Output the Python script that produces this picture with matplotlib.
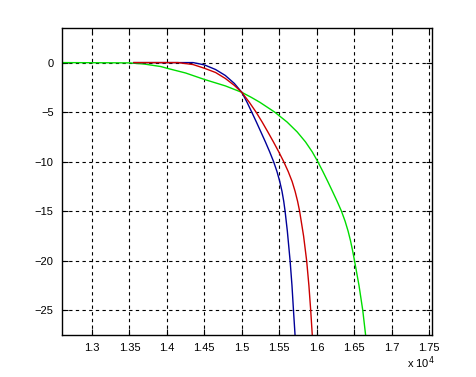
import matplotlib
matplotlib.use("Agg")
import matplotlib.pyplot as plt

# values
green_x = [12600, 13500, 13700, 13920, 14000, 14250, 14500, 14780, 15000, 15125, 15240,
           15440, 15605, 15740, 15850, 15940, 16015, 16083, 16148, 16211, 16273,
           16331, 16379, 16419, 16452, 16480, 16505, 16565, 16615, 16653]
green_y = [0, -0.03, -0.15, -0.4, -0.57, -1.05, -1.7, -2.35, -3.0, -3.5, -4.0,
           -5.0, -6.0, -7.0, -8.0, -9.0, -10.0, -11.0, -12.0, -13.0, -14.0,
           -15.0, -16.0, -17.0, -18.0, -19.0, -20.0, -22.5, -25.0, -27.5]

red_x = [13560, 14150, 14350, 14500, 14650, 14780, 14900, 15000, 15100, 15191, 15272,
         15348, 15422, 15493, 15560, 15620, 15672, 15712, 15745, 15772, 15825,
         15866, 15896, 15920, 15941]
red_y = [0, 0, -0.2, -0.57, -1.0, -1.6, -2.3, -3.0, -4.0, -5.0, -6.0,
         -7.0, -8.0, -9.0, -10.0, -11.0, -12.0, -13.0, -14.0, -15.0, -17.5,
         -20.0, -22.5, -25.0, -27.5]

blue_x = [13560, 14350, 14500, 14650, 14780, 14900, 15000, 15070, 15133, 15195, 15255,
          15315, 15372, 15425, 15470, 15507, 15537, 15560, 15578, 15608, 15645,
          15670, 15690, 15711]
blue_y = [0, 0, -0.23, -0.7, -1.3, -2.1, -3.0, -4.0, -5.0, -6.0, -7.0,
          -8.0, -9.0, -10.0, -11.0, -12.0, -13.0, -14.0, -15.0, -17.0, -20.0,
          -22.5, -25.0, -27.5]

xticks = [13000, 13500, 14000, 14500, 15000, 15500, 16000, 16500, 17000, 17500]
xticklabels = ["1.3", "1.35", "1.4", "1.45", "1.5", "1.55", "1.6", "1.65", "1.7", "1.75"]
yticks = [0, -5, -10, -15, -20, -25]

plt.rcParams["font.family"] = ["Liberation Sans", "DejaVu Sans"]

fig = plt.figure(figsize=(4.77, 3.77), dpi=100)
ax = fig.add_axes([0.130, 0.111, 0.775, 0.815])

ax.plot(green_x, green_y, color="#00dd00", lw=1.0)
ax.plot(blue_x, blue_y, color="#000099", lw=1.0)
ax.plot(red_x, red_y, color="#cc0000", lw=1.0)

ax.set_xlim(12600, 17535)
ax.set_ylim(-27.5, 3.5)
ax.set_xticks(xticks)
ax.set_xticklabels(xticklabels)
ax.set_yticks(yticks)

ax.grid(True, color="black", linestyle=(0, (3, 3)), linewidth=0.8)
ax.tick_params(direction="in", top=True, right=True, length=4, width=0.8,
               labelsize=8, colors="black", pad=6)
for s in ax.spines.values():
    s.set_linewidth(1.0)

fig.text(0.853, 0.025, r"x 10$^{4}$", fontsize=8)

fig.savefig("out.png", dpi=100)
